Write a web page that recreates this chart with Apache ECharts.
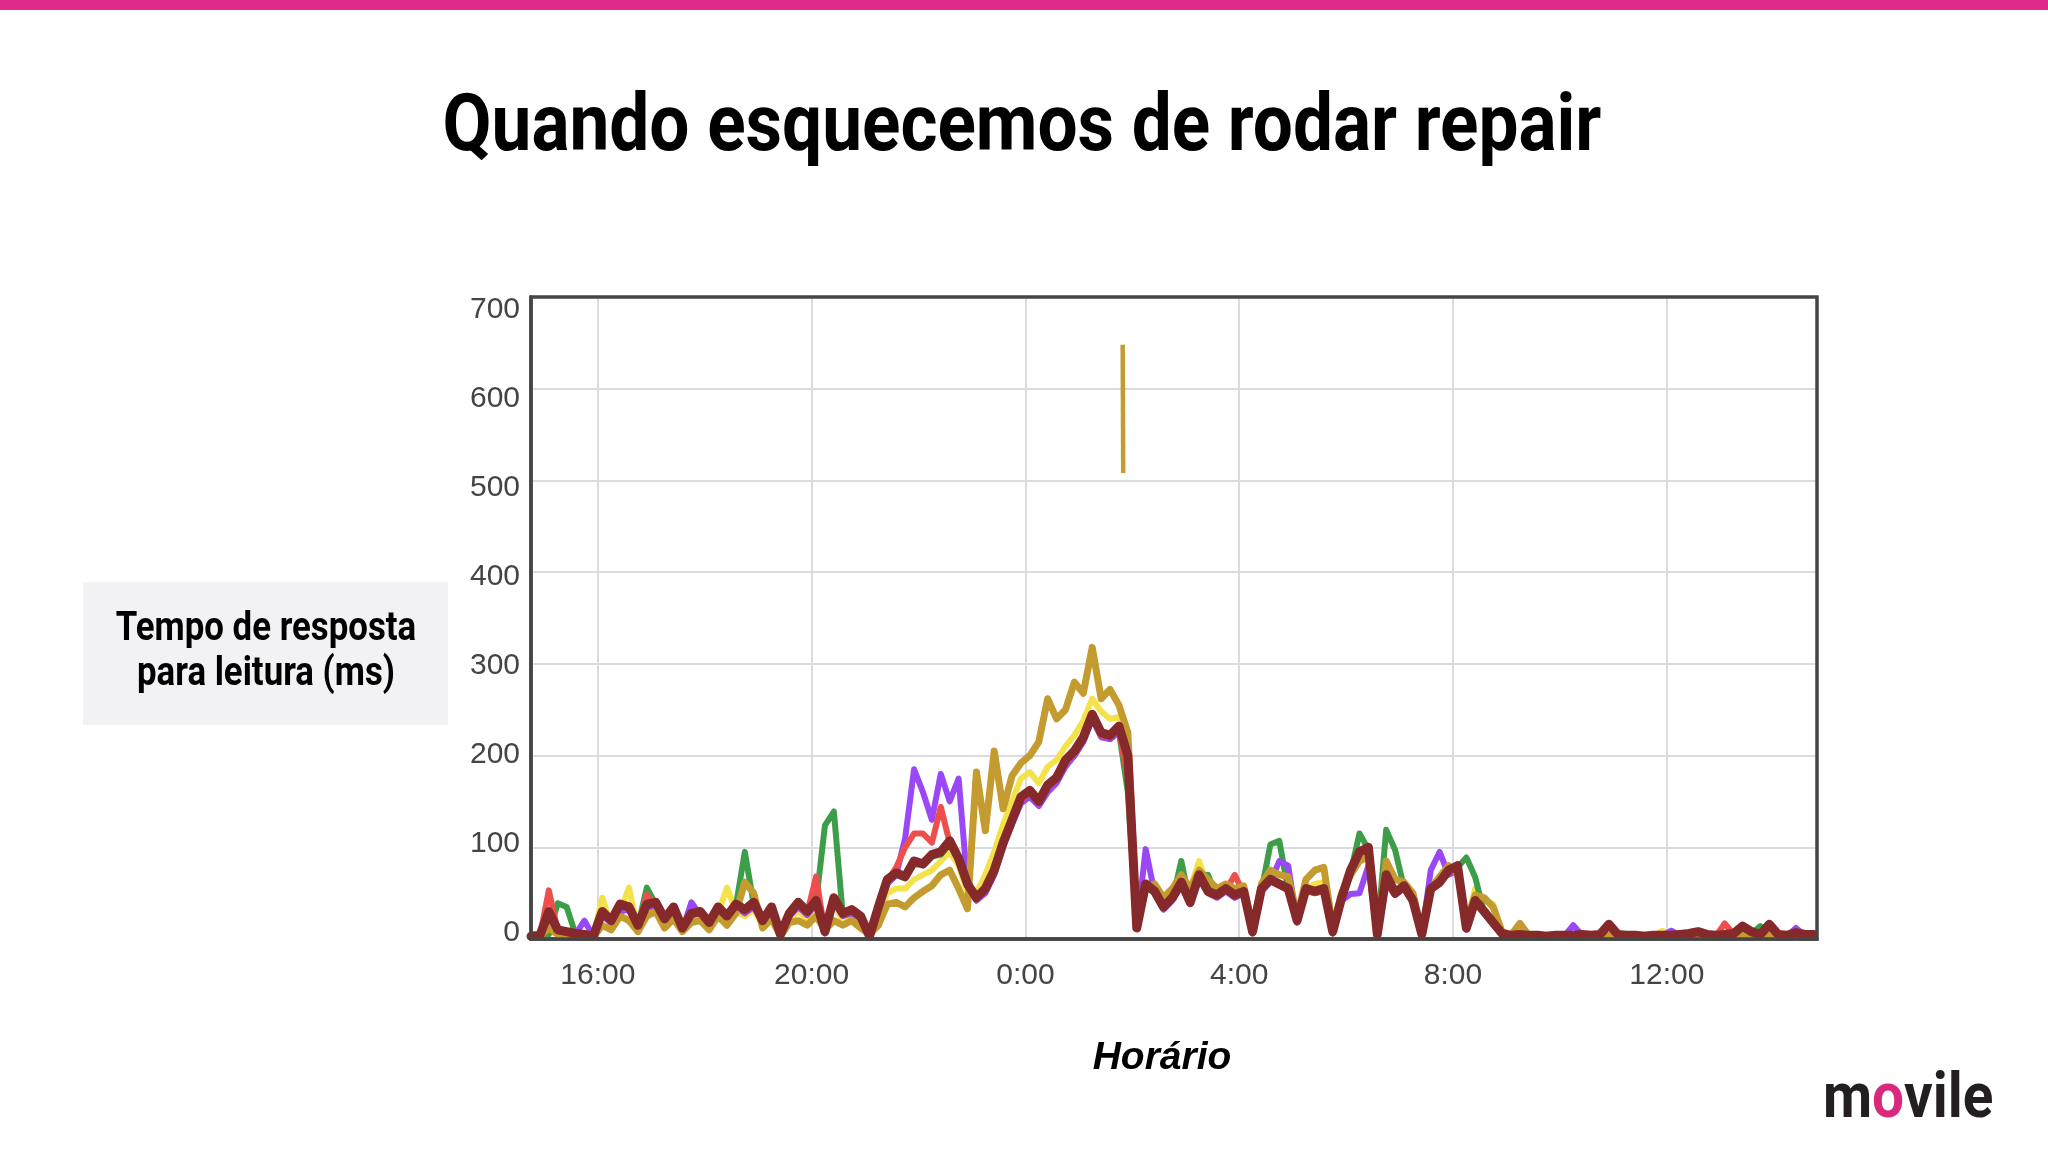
<!DOCTYPE html>
<html>
<head>
<meta charset="utf-8">
<script src="https://cdn.jsdelivr.net/npm/echarts@6/dist/echarts.min.js"></script>
<style>
html,body{margin:0;padding:0;background:#ffffff;}
#chart{width:2048px;height:1152px;}
</style>
</head>
<body>
<div id="chart"></div>
<script>
// ---- texts ----
const titleText = 'Quando esquecemos de rodar repair';
const yLabelLines = ['Tempo de resposta', 'para leitura (ms)'];
const xLabelText = 'Horário';

// ---- time grid: 10-minute samples from 14:45 to 14:45 next day (hours since day-1 midnight) ----
const startHour = 14.75;
const stepHour = 1 / 6;

// ---- series values (ms), one value per 10-minute sample ----
const maroon = [3,4,30,10,8,6,5,3,30,20,
 38,35,15,38,40,22,35,12,28,30,
 18,35,25,38,32,40,20,35,5,28,
 40,30,42,8,45,28,32,25,3,35,
 65,72,68,85,82,92,95,107,88,60,
 45,55,75,105,130,155,162,150,168,176,
 195,205,220,245,225,222,232,200,12,60,
 52,35,45,62,40,70,52,48,55,48,
 52,8,55,65,60,55,20,55,52,55,
 8,45,75,95,100,5,70,50,58,42,
 5,55,62,75,80,12,42,30,18,6,
 4,5,4,4,3,4,4,4,5,4,
 5,16,5,4,4,3,4,4,4,5,
 6,8,5,4,5,6,14,8,5,16,
 5,4,7,5,5];

const gold = [2,3,12,5,4,3,3,2,15,10,
 25,20,8,25,30,12,22,8,18,20,
 10,25,15,28,62,50,12,22,3,18,
 20,15,25,10,20,15,20,12,5,15,
 38,40,35,45,52,58,70,75,55,33,
 182,118,205,142,178,192,200,215,262,240,
 250,280,268,318,262,272,255,225,15,55,
 60,45,55,70,55,75,65,55,60,55,
 58,12,60,75,70,68,25,65,75,78,
 12,50,70,85,90,8,85,65,62,50,
 8,55,68,80,72,20,48,45,35,8,
 4,17,4,3,4,4,3,4,3,4,
 4,4,5,4,3,4,4,3,4,4,
 5,4,4,5,4,4,5,4,4,5,
 4,4,4,5,4];

const purple = [2,3,20,8,6,5,20,3,25,18,
 30,32,12,35,35,18,30,10,40,26,
 15,30,22,35,28,35,18,30,4,25,
 35,26,38,6,40,25,28,22,3,30,
 60,70,110,185,160,130,180,150,175,58,
 42,50,70,100,125,148,155,145,160,170,
 188,200,215,240,220,218,226,200,12,98,
 50,32,42,58,38,65,50,45,52,45,
 50,6,52,62,85,80,18,52,50,52,
 6,42,49,50,80,4,65,48,55,40,
 4,75,95,70,75,10,40,28,16,5,
 3,4,3,3,3,4,3,15,4,3,
 4,4,4,3,3,3,3,4,9,4,
 5,6,4,3,4,5,5,6,4,5,
 4,3,12,4,4];

const green = [2,3,5,39,35,5,4,3,28,18,
 35,33,14,56,38,20,33,10,26,28,
 16,33,23,36,95,38,18,33,4,26,
 38,28,40,124,139,26,30,23,3,33,
 62,70,66,82,80,90,92,104,85,57,
 42,52,72,102,127,152,158,146,164,172,
 190,200,216,240,222,218,226,160,12,58,
 50,33,43,85,38,68,70,46,53,46,
 50,6,53,103,107,53,18,53,50,53,
 6,43,72,115,98,6,119,97,56,40,
 4,53,60,73,78,89,67,28,16,5,
 3,4,3,3,3,4,3,4,4,3,
 4,4,4,3,3,3,3,4,4,4,
 5,6,4,3,4,5,5,6,14,5,
 4,3,5,4,4];

const red = [2,3,53,9,7,5,4,3,28,18,
 36,33,14,48,38,20,33,10,26,28,
 16,33,23,36,30,38,18,33,4,26,
 38,28,68,7,43,26,30,23,3,33,
 63,78,100,115,115,105,144,105,86,58,
 43,53,72,103,128,152,160,148,166,174,
 192,202,218,242,222,220,228,175,12,58,
 50,33,43,60,38,68,50,46,53,70,
 50,6,53,63,58,53,18,53,50,53,
 6,43,72,92,97,5,60,48,56,40,
 4,53,60,73,78,12,40,28,16,5,
 3,4,3,3,3,4,3,4,4,3,
 4,4,4,3,3,3,3,4,4,4,
 5,6,4,3,17,5,5,6,4,5,
 4,3,5,4,4];

const yellow = [2,3,8,6,5,4,4,3,45,15,
 30,56,10,30,35,15,28,8,22,24,
 12,28,56,30,25,32,15,28,3,22,
 30,22,35,6,38,20,25,18,3,28,
 50,55,55,65,70,75,85,95,80,50,
 50,70,95,125,150,175,182,170,188,195,
 210,222,238,262,248,240,242,210,12,55,
 52,35,45,62,55,85,55,48,55,48,
 52,8,55,65,60,55,20,55,60,62,
 8,45,70,95,92,5,72,55,58,42,
 5,55,62,75,80,15,55,42,38,8,
 3,4,3,3,3,4,3,4,4,3,
 4,4,4,3,3,3,3,9,4,4,
 5,6,4,3,4,5,5,6,4,5,
 4,3,5,4,4];

// isolated gold spike around 1:50
const spikeHours = [25.82, 25.83];
const spikeValues = [648, 508];

// ---- axis settings ----
const xMinHour = 14.75;
const xMaxHour = 38.81;
const yMax = 700;
const yStep = 100;

const hours = maroon.map((_, i) => startHour + i * stepHour);
const toPairs = arr => hours.map((h, i) => [h, arr[i]]);

const seriesDefs = [
  { name: 'yellow', values: yellow, color: '#f3e24a', width: 6 },
  { name: 'green', values: green, color: '#3c9e48', width: 6 },
  { name: 'purple', values: purple, color: '#9a48f6', width: 6 },
  { name: 'red', values: red, color: '#ef4f4c', width: 6 },
  { name: 'gold', values: gold, color: '#c49b2f', width: 7 },
  { name: 'maroon', values: maroon, color: '#86292a', width: 9 }
];

const series = seriesDefs.map(d => ({
  type: 'line',
  name: d.name,
  xAxisIndex: 0,
  yAxisIndex: 0,
  data: toPairs(d.values),
  showSymbol: false,
  symbol: 'none',
  silent: true,
  lineStyle: { color: d.color, width: d.width, join: 'round', cap: 'round' },
  itemStyle: { color: d.color }
}));
series.push({
  type: 'line',
  name: 'goldSpike',
  xAxisIndex: 0,
  yAxisIndex: 0,
  data: spikeHours.map((h, i) => [h, spikeValues[i]]),
  showSymbol: false,
  symbol: 'none',
  silent: true,
  lineStyle: { color: '#c49b2f', width: 4.5 },
  itemStyle: { color: '#c49b2f' }
});

const labelFont = "'Liberation Sans', Arial, Helvetica, sans-serif";

const option = {
  animation: false,
  backgroundColor: '#ffffff',
  grid: [
    { left: 531, right: 231, top: 297, bottom: 213, show: true, borderColor: '#454545', borderWidth: 3.5, backgroundColor: 'transparent', outerBoundsMode: 'none', containLabel: false, z: 5 },
    { left: 531, right: 231, top: 310, bottom: 219, show: false, outerBoundsMode: 'none', containLabel: false }
  ],
  xAxis: [
    {
      gridIndex: 0, type: 'value', min: xMinHour, max: xMaxHour,
      minInterval: 4, maxInterval: 4,
      axisLine: { show: true, lineStyle: { color: '#3a3a3a', width: 3.5 } }, axisTick: { show: false },
      splitLine: { show: true, showMinLine: false, showMaxLine: false, lineStyle: { color: '#dcdbe0', width: 2 } },
      axisLabel: {
        show: true, margin: 22, fontSize: 30, color: '#444444', fontFamily: labelFont,
        showMinLabel: false, showMaxLabel: false,
        formatter: v => (Math.round(v) % 24) + ':00'
      }
    },
    { gridIndex: 1, type: 'value', min: 0, max: 1, show: false }
  ],
  yAxis: [
    {
      gridIndex: 0, type: 'value', min: 0, max: yMax, interval: yStep,
      axisLine: { show: true, lineStyle: { color: '#4a4a4a', width: 3.5 } }, axisTick: { show: false }, axisLabel: { show: false },
      splitLine: { show: true, showMinLine: false, showMaxLine: false, lineStyle: { color: '#dcdbe0', width: 2 } }
    },
    {
      gridIndex: 1, type: 'value', min: 0, max: yMax, interval: yStep,
      axisLine: { show: false }, axisTick: { show: false }, splitLine: { show: false },
      axisLabel: { margin: 11, fontSize: 30, color: '#444444', fontFamily: labelFont }
    }
  ],
  graphic: [
    { type: 'rect', shape: { x: 0, y: 0, width: 2048, height: 10 }, style: { fill: '#df2a8c' }, silent: true },
    {
      type: 'text', x: 1022, y: 130, scaleX: 0.9, silent: true,
      style: { text: titleText, font: "bold 79px Roboto", fill: '#000000', textAlign: 'center', align: 'center', textVerticalAlign: 'middle', verticalAlign: 'middle' }
    },
    { type: 'rect', shape: { x: 83, y: 582, width: 365, height: 143 }, style: { fill: '#f2f1f4' }, silent: true },
    {
      type: 'text', x: 266, y: 630, scaleX: 0.87, silent: true,
      style: { text: yLabelLines[0], font: "bold 40px Roboto", fill: '#000000', textAlign: 'center', align: 'center', textVerticalAlign: 'middle', verticalAlign: 'middle' }
    },
    {
      type: 'text', x: 266, y: 675, scaleX: 0.87, silent: true,
      style: { text: yLabelLines[1], font: "bold 40px Roboto", fill: '#000000', textAlign: 'center', align: 'center', textVerticalAlign: 'middle', verticalAlign: 'middle' }
    },
    {
      type: 'text', x: 1162, y: 1058, silent: true,
      style: { text: xLabelText, font: "italic bold 39px 'Liberation Sans', Arial, sans-serif", fill: '#000000', textAlign: 'center', align: 'center', textVerticalAlign: 'middle', verticalAlign: 'middle' }
    },
    {
      type: 'text', x: 1823, y: 1101, scaleX: 0.9, silent: true,
      style: {
        text: '{a|m}{b|o}{a|vile}', textAlign: 'left', align: 'left', textVerticalAlign: 'middle', verticalAlign: 'middle',
        rich: {
          a: { fontFamily: 'Roboto', fontSize: 63, fontWeight: 'bold', fill: '#231f20', color: '#231f20' },
          b: { fontFamily: 'Roboto', fontSize: 63, fontWeight: 'bold', fill: '#d9297f', color: '#d9297f' }
        }
      }
    }
  ],
  series: series
};

const chart = echarts.init(document.getElementById('chart'), null, { renderer: 'canvas' });
chart.setOption(option);
</script>
</body>
</html>
